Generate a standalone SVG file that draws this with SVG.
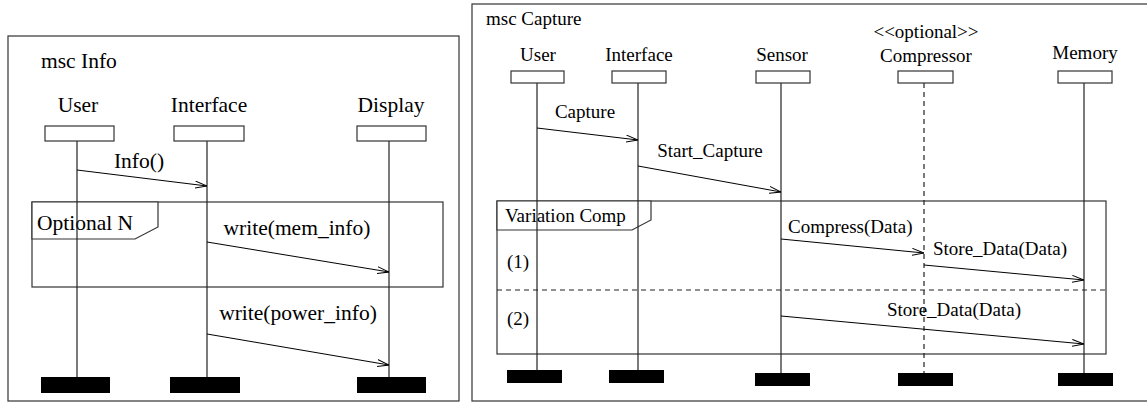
<svg xmlns="http://www.w3.org/2000/svg" width="1147" height="403" viewBox="0 0 1147 403">
<defs>
<style>
text{font-family:"Liberation Serif","Times New Roman",serif;fill:#000}
.L{font-size:21.5px}
.R{font-size:19px}
.frame{fill:none;stroke:#333;stroke-width:1.2}
.head{fill:#fff;stroke:#333;stroke-width:1.2}
.end{fill:#000}
.life{stroke:#222;stroke-width:1.2}
.dash{stroke:#222;stroke-width:1.2;stroke-dasharray:5,4}
.msg{stroke:#000;stroke-width:1;fill:none;marker-end:url(#arr)}
.box{fill:none;stroke:#333;stroke-width:1.2}
.tab{fill:#fff;stroke:#333;stroke-width:1.2}
</style>
<marker id="arr" viewBox="0 0 12 8" refX="12" refY="4" markerWidth="12" markerHeight="8" markerUnits="userSpaceOnUse" orient="auto">
<path d="M0,0.5 L12,4 L0,7.5" fill="none" stroke="#000" stroke-width="1"/>
</marker>
</defs>

<!-- Left diagram: msc Info -->
<g id="frame-info">
<rect class="frame" x="8" y="36" width="451" height="365"/>
<text class="L" x="41" y="68">msc Info</text>
</g>
<g id="opt-n">
<rect class="box" x="32" y="202" width="411" height="85"/>
<path class="tab" d="M32,202 H158 V227 L135,239 H32 Z"/>
<text class="L" x="37" y="230">Optional N</text>
</g>
<g id="lifelines-info">
<line class="life" x1="77" y1="141" x2="77" y2="377"/>
<line class="life" x1="207" y1="141" x2="207" y2="377"/>
<line class="life" x1="389" y1="141" x2="389" y2="377"/>
</g>
<g id="info-user">
<text class="L" x="78" y="112" text-anchor="middle">User</text>
<rect class="head" x="45" y="126" width="69" height="15"/>
<rect class="end" x="41" y="377" width="69" height="16"/>
</g>
<g id="info-interface">
<text class="L" x="209" y="112" text-anchor="middle">Interface</text>
<rect class="head" x="174" y="126" width="70" height="15"/>
<rect class="end" x="170" y="377" width="70" height="16"/>
</g>
<g id="info-display">
<text class="L" x="391" y="112" text-anchor="middle">Display</text>
<rect class="head" x="357" y="126" width="69" height="15"/>
<rect class="end" x="357" y="377" width="69" height="16"/>
</g>
<g id="connectors-info">
<line class="msg" x1="77" y1="170" x2="207" y2="186"/>
<text class="L" x="139" y="168" text-anchor="middle">Info()</text>
<line class="msg" x1="207" y1="242" x2="389" y2="272"/>
<text class="L" x="297" y="235" text-anchor="middle">write(mem_info)</text>
<line class="msg" x1="207" y1="334" x2="389" y2="365"/>
<text class="L" x="298" y="320" text-anchor="middle">write(power_info)</text>
</g>

<!-- Right diagram: msc Capture -->
<g id="frame-capture">
<rect class="frame" x="472" y="4" width="690" height="397"/>
<text class="R" x="486" y="25">msc Capture</text>
</g>
<g id="variation-comp">
<rect class="box" x="497" y="201" width="609" height="153"/>
<line class="dash" x1="497" y1="290" x2="1106" y2="290" stroke-dasharray="5,4"/>
<path class="tab" d="M497,201 H651 V220 L632,230 H497 Z"/>
<text class="R" x="505" y="222">Variation Comp</text>
<text class="R" x="507" y="268">(1)</text>
<text class="R" x="507" y="325">(2)</text>
</g>
<g id="lifelines-capture">
<line class="life" x1="537" y1="83" x2="537" y2="370"/>
<line class="life" x1="638" y1="83" x2="638" y2="370"/>
<line class="life" x1="781" y1="83" x2="781" y2="373"/>
<line class="dash" x1="924" y1="83" x2="924" y2="373"/>
<line class="life" x1="1084" y1="83" x2="1084" y2="373"/>
</g>
<g id="cap-user">
<text class="R" x="538" y="61" text-anchor="middle">User</text>
<rect class="head" x="511" y="71" width="53" height="12"/>
<rect class="end" x="507" y="370" width="55" height="13"/>
</g>
<g id="cap-interface">
<text class="R" x="639" y="61" text-anchor="middle">Interface</text>
<rect class="head" x="612" y="71" width="54" height="12"/>
<rect class="end" x="609" y="370" width="55" height="13"/>
</g>
<g id="cap-sensor">
<text class="R" x="782" y="61" text-anchor="middle">Sensor</text>
<rect class="head" x="756" y="71" width="54" height="12"/>
<rect class="end" x="755" y="373" width="55" height="13"/>
</g>
<g id="cap-compressor">
<text class="R" x="926" y="38" text-anchor="middle">&lt;&lt;optional&gt;&gt;</text>
<text class="R" x="926" y="62" text-anchor="middle">Compressor</text>
<rect class="head" x="898" y="71" width="55" height="12"/>
<rect class="end" x="898" y="373" width="55" height="13"/>
</g>
<g id="cap-memory">
<text class="R" x="1085" y="59" text-anchor="middle">Memory</text>
<rect class="head" x="1058" y="71" width="54" height="12"/>
<rect class="end" x="1058" y="373" width="55" height="13"/>
</g>
<g id="connectors-capture">
<line class="msg" x1="537" y1="128" x2="638" y2="140"/>
<text class="R" x="585" y="118" text-anchor="middle">Capture</text>
<line class="msg" x1="638" y1="166" x2="781" y2="192"/>
<text class="R" x="710" y="157" text-anchor="middle">Start_Capture</text>
<line class="msg" x1="781" y1="239" x2="924" y2="253"/>
<text class="R" x="788" y="233">Compress(Data)</text>
<line class="msg" x1="924" y1="265" x2="1084" y2="280"/>
<text class="R" x="933" y="255">Store_Data(Data)</text>
<line class="msg" x1="781" y1="316" x2="1084" y2="344"/>
<text class="R" x="887" y="316">Store_Data(Data)</text>
</g>
</svg>
